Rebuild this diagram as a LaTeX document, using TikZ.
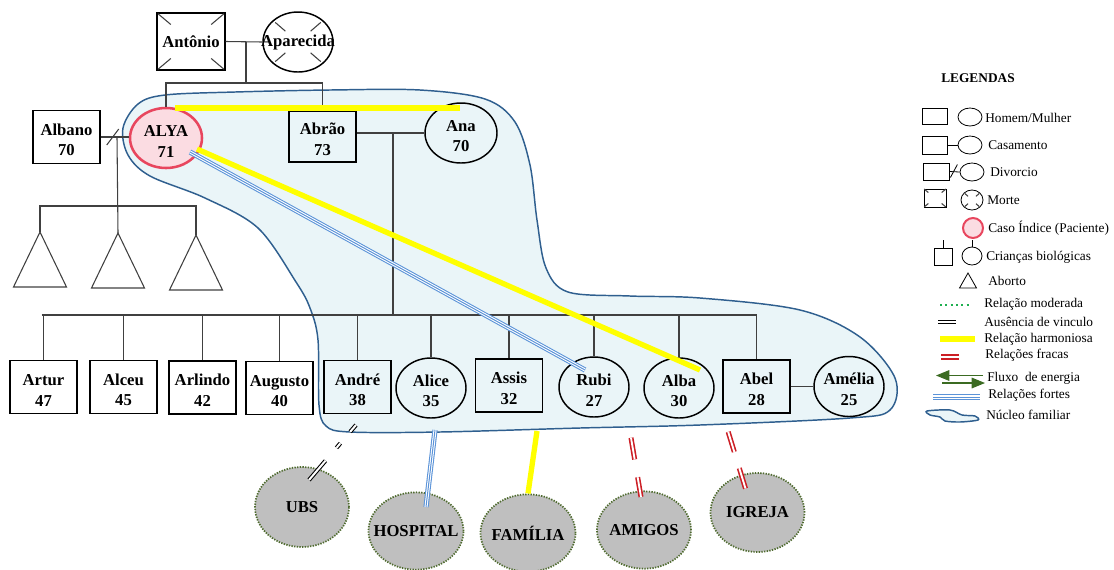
\documentclass[tikz,border=0pt]{standalone}
\usepackage{fontspec}
\setmainfont{Liberation Serif}
\usetikzlibrary{shapes.geometric,calc,arrows.meta}

\definecolor{nucleusfill}{HTML}{EAF5F8}
\definecolor{nucleusline}{HTML}{2F5F8F}
\definecolor{kinline}{HTML}{404040}
\definecolor{indexfill}{HTML}{FBDCE2}
\definecolor{indexline}{HTML}{E8465E}
\definecolor{harmony}{HTML}{FFFF00}
\definecolor{strongblue}{HTML}{5B93D8}
\definecolor{weakred}{HTML}{CC1E25}
\definecolor{extfill}{HTML}{BFBFBF}
\definecolor{extline}{HTML}{4F6B2F}
\definecolor{moderate}{HTML}{1FAF50}
\definecolor{energy}{HTML}{3B6B22}

% centred name lines that never widen their shape
\newcommand{\nm}[1]{\makebox[0pt]{#1}}
\newcommand{\twoline}[2]{\nm{\rule{0pt}{13pt}#1}\\\nm{#2}}

% partial crosses marking a deceased person
\newcommand{\deadbox}[1]{%
  \foreach \c in {north west,north east,south west,south east}
    \draw[kin] ($(#1.\c)!0.05!(#1.center)$) -- ($(#1.\c)!0.42!(#1.center)$);}
\newcommand{\deadoval}[1]{%
  \foreach \c in {north west,north east,south west,south east}
    \draw[kin] ($(#1.center)!0.5!(#1.\c)$) -- ($(#1.center)!0.9!(#1.\c)$);}

\begin{document}
\begin{tikzpicture}[x=0.75pt,y=-0.75pt,
  namefont/.style={font=\fontsize{12.5}{15.5}\selectfont\bfseries},
  kin/.style={draw=kinline,line width=0.8pt},
  man/.style={rectangle,draw=black,line width=1.1pt,minimum width=50.25pt,
    minimum height=39.5pt,inner sep=0pt,align=center,namefont},
  woman/.style={ellipse,draw=black,line width=1.1pt,minimum width=52.5pt,
    minimum height=45pt,inner sep=0pt,align=center,namefont},
  indexcase/.style={woman,fill=indexfill,draw=indexline,line width=1.9pt},
  ext/.style={ellipse,fill=extfill,draw=extline,line width=1.3pt,
    dash pattern=on 1pt off 1pt,inner sep=0pt,minimum width=70.5pt,
    minimum height=58pt,namefont},
  harmonious/.style={draw=harmony,line width=4pt},
  strong/.style={preaction={draw=strongblue,line width=3.9pt},
    draw=white,line width=2.3pt,postaction={draw=strongblue,line width=0.75pt}},
  weak/.style={draw=weakred,line width=1.2pt,double=white,double distance=1.4pt},
  absent/.style={draw=black,line width=0.8pt,double=white,double distance=1.5pt},
  legtext/.style={anchor=west,inner sep=0pt,font=\fontsize{10}{12}\selectfont},
  smallman/.style={rectangle,draw=black,line width=0.6pt,inner sep=0pt},
  smallwoman/.style={ellipse,draw=black,line width=0.6pt,inner sep=0pt}]

\useasboundingbox (0,0) rectangle (1114,569);

% family nucleus
\draw[fill=nucleusfill,draw=nucleusline,line width=1.1pt]
  plot[smooth cycle,tension=0.55] coordinates {
  (165,95) (235,92) (330,90) (420,90) (485,99) (515,122) (530,165) (537,220)
  (546,268) (568,292) (630,296) (700,298) (800,310) (860,337) (895,378)
  (890,410) (850,418) (700,425) (580,428) (440,432) (350,432) (326,426)
  (319,405) (318,340) (310,308) (296,282) (258,228) (205,198) (150,176)
  (128,155) (123,128) (138,104)};

% grandparents
\node[man] (antonio) at (191,41.5) [minimum width=51pt,minimum height=42.75pt] {\nm{Antônio}};
\node[woman] (aparecida) at (298,42) {\nm{Aparecida}};
\deadbox{antonio}
\deadoval{aparecida}

% parents' generation
\node[man] (albano) at (66.5,137) {\twoline{Albano}{70}};
\node[indexcase] (alya) at (166,138) [minimum width=54pt] {\twoline{ALYA}{71}};
\node[man] (abrao) at (322.5,136.5) [minimum height=38.25pt] {\twoline{Abrão}{73}};
\node[woman] (ana) at (461,133) [minimum width=54pt] {\twoline{Ana}{70}};

% children
\node[man] (artur) at (43.5,387) {\twoline{Artur}{47}};
\node[man] (alceu) at (123.5,387) {\twoline{Alceu}{45}};
\node[man] (arlindo) at (202.5,387.5) {\twoline{Arlindo}{42}};
\node[man] (augusto) at (279.5,388) {\twoline{Augusto}{40}};
\node[man] (andre) at (357.5,387) {\twoline{André}{38}};
\node[woman] (alice) at (431,388) {\twoline{Alice}{35}};
\node[man] (assis) at (509,385.5) {\twoline{Assis}{32}};
\node[woman] (rubi) at (594,387) {\twoline{Rubi}{27}};
\node[woman] (alba) at (679,388) {\twoline{Alba}{30}};
\node[man] (abel) at (756.5,386.5) {\twoline{Abel}{28}};
\node[woman] (amelia) at (849,386.5) {\twoline{Amélia}{25}};

% kinship lines
\coordinate (gp) at (246,42);
\coordinate (gpbar) at (246,83);
\draw[kin] (antonio.east) -- (aparecida.west);
\draw[kin] (gp) -- (gpbar);
\draw[kin] (alya.north) |- (gpbar) -| (abrao.north);

\draw[kin] (albano.east) -- (albano.east -| alya.west);
\draw[kin] ($(albano.east)+(6,8)$) -- ($(albano.east)+(18,-8)$);

\coordinate (divorce) at (117,137);
\coordinate (abbar) at (117,206);
\foreach \n/\x/\y in {ab1/40/232,ab2/118/233,ab3/196/235}{
  \coordinate (\n) at (\x,\y);
  \draw[kin] (\n) -- ++(-26.5,55) -- ++(53,0) -- cycle;}
\draw[kin] (ab1) -- (ab1 |- abbar) -- (ab3 |- abbar) -- (ab3);
\draw[kin] (divorce) -- (ab2);

\draw[kin] (ana.west) -- (ana.west -| abrao.east);
\coordinate (pm) at (393,134);
\coordinate (kidsbar) at (393,315);
\draw[kin] (pm) -- (kidsbar);
\draw[kin] ($(artur.north |- kidsbar)+(-2,0)$) -- (abel.north |- kidsbar);
\foreach \c in {artur,alceu,arlindo,augusto,andre,alice,assis,rubi,alba,abel}
  \draw[kin] (\c.north |- kidsbar) -- (\c.north);
\draw[kin] (abel.east) -- (amelia.west);

% relations inside the family
\draw[harmonious] ($(alya)+(9,-30)$) -- ($(ana)+(-1,-25)$);
\draw[strong] ($(alya)+(24,14)$) -- ($(rubi)+(-9,-17)$);
\draw[harmonious] ($(alya)+(31,11)$) -- ($(alba)+(21,-18)$);

% outside network
\node[ext] (ubs) at (302,507) [minimum height=60pt] {\nm{UBS}};
\node[ext] (hospital) at (416,531) [minimum width=71.25pt] {\nm{HOSPITAL}};
\node[ext] (familia) at (528,533) [minimum width=71.25pt] {\nm{FAMÍLIA}};
\node[ext] (amigos) at (644,530) {\nm{AMIGOS}};
\node[ext] (igreja) at (757.5,512.5) [minimum height=59.25pt] {\nm{IGREJA}};

\coordinate (toubs) at (356,425);
\coordinate (tohospital) at (435,430);
\coordinate (tofamilia) at (537,431);
\coordinate (toamigos) at (628,420);
\coordinate (toigreja) at (727,428);

\draw[absent,dash pattern=on 6.75pt off 11.25pt on 4.5pt off 12.75pt on 30pt]
  (toubs) -- ($(ubs)+(7,-27)$);
\draw[strong] (tohospital) -- ($(hospital)+(10,-24)$);
\draw[harmonious] (tofamilia) -- (familia.north);
\draw[weak,dash pattern=on 16.5pt off 13.5pt on 15pt off 13.5pt,dash phase=45pt]
  (toamigos) -- ($(amigos)+(-3,-33)$);
\draw[weak,dash pattern=on 15.75pt off 12.75pt on 18.75pt off 3pt,dash phase=47.25pt]
  (toigreja) -- ($(igreja)+(-12,-24)$);

% legend
\node[font=\fontsize{10}{12}\selectfont\bfseries] (legtitle) at (978,78) {LEGENDAS};

\node[smallman,minimum width=18.75pt,minimum height=12pt] (l1m) at (934.5,116) {};
\node[smallwoman,minimum width=18pt,minimum height=13.5pt] (l1f) at (970,117) {};
\node[legtext] at (985,118) {Homem/Mulher};

\node[smallman,minimum width=18.75pt,minimum height=13.5pt] (l2m) at (934.5,145) {};
\node[smallwoman,minimum width=18pt,minimum height=13.5pt] (l2f) at (970,145) {};
\draw[line width=0.6pt] (l2m.east) -- (l2f.west);
\node[legtext] at (988,145) {Casamento};

\node[smallman,minimum width=19.5pt,minimum height=12.75pt] (l3m) at (936,171.5) {};
\node[smallwoman,minimum width=18pt,minimum height=13.5pt] (l3f) at (972,172) {};
\draw[line width=0.6pt] (l3m.east) -- (l3f.west);
\draw[line width=0.6pt] ($(l3m.east)+(1,6)$) -- ($(l3m.east)+(8,-7)$);
\node[legtext] at (990,172) {Divorcio};

\node[smallman,minimum width=16.5pt,minimum height=13.5pt] (l4m) at (935,198) {};
\node[smallwoman,minimum width=16.5pt,minimum height=15pt] (l4f) at (972,200) {};
\deadbox{l4m}
\deadoval{l4f}
\node[legtext] at (987,200) {Morte};

\node[circle,fill=indexfill,draw=indexline,line width=1.5pt,minimum size=15pt,inner sep=0pt] (l5) at (973,228) {};
\node[legtext] at (988,228) {Caso Índice (Paciente)};

\node[smallman,minimum width=13.5pt,minimum height=12.75pt] (l6m) at (943,256.5) {};
\node[smallwoman,minimum width=15pt,minimum height=13.5pt] (l6f) at (972,256) {};
\draw[line width=0.6pt] (l6m.north) -- ++(0,-8);
\draw[line width=0.6pt] (l6f.north) -- ++(0,-7);
\node[legtext] at (986,257) {Crianças biológicas};

\coordinate (l7) at (968,273);
\draw[line width=0.6pt] (l7) -- ++(-8.5,15) -- ++(17,0) -- cycle;
\node[legtext] at (988,281) {Aborto};

\draw[moderate,line width=1.5pt,dash pattern=on 1.5pt off 2.5pt] (940,305) -- (969,305);
\node[legtext] at (984,304) {Relação moderada};

\draw[absent] (938,322) -- (956,322);
\node[legtext] at (984,322) {Ausência de vinculo};

\draw[harmonious] (940,339) -- (975,339);
\node[legtext] at (984,339) {Relação harmoniosa};

\draw[weak] (941,357) -- (959,357);
\node[legtext] at (985,355) {Relações fracas};

\draw[energy,line width=0.8pt,-{Triangle[length=10pt,width=8pt]}] (983,375.5) -- (936,375.5);
\draw[energy,line width=0.8pt,-{Triangle[length=10pt,width=8pt]}] (942,383) -- (985,383);
\node[legtext] at (987,378) {Fluxo~ de energia};

\draw[strong] (933,397) -- (980,397);
\node[legtext] at (988,395) {Relações fortes};

\draw[fill=nucleusfill,draw=nucleusline,line width=1.1pt]
  plot[smooth cycle,tension=0.5] coordinates {
  (927,411) (950,410) (962,415) (975,416) (978,420) (960,422) (945,421)
  (940,417) (930,415)};
\node[legtext] at (986,415) {Núcleo familiar};

\end{tikzpicture}
\end{document}
